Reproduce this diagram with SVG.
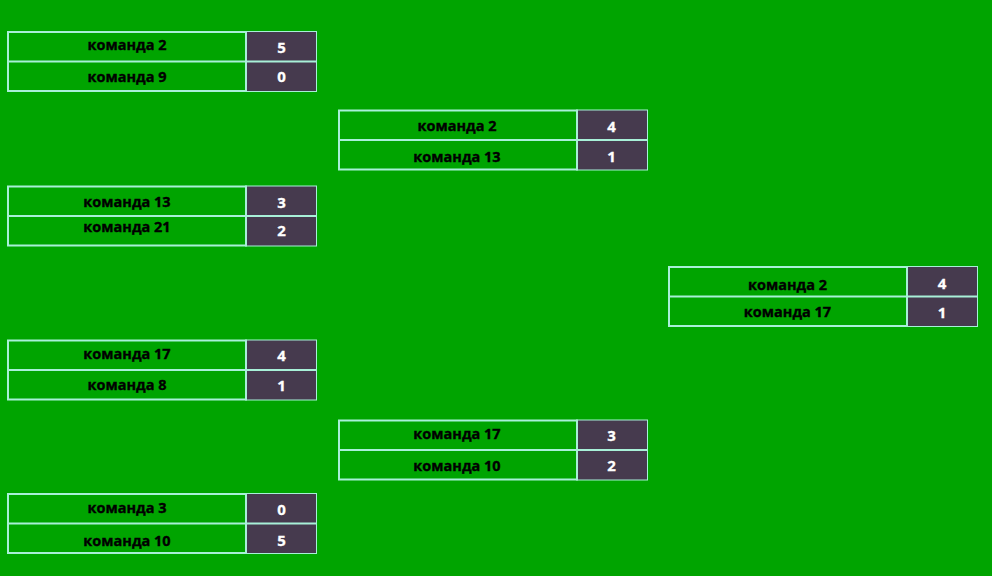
<svg xmlns="http://www.w3.org/2000/svg" width="992" height="576" viewBox="0 0 992 576">
<style>
.frame{fill:#00a400;stroke:#a8f0d8;stroke-width:2}
.score{fill:#463a4e}
.div{stroke:#a8f0d8;stroke-width:2}
.lbl{font-family:"Open Sans","Noto Sans",sans-serif;font-weight:700;font-size:14.5px;fill:#000;stroke:#000;stroke-width:0.35;text-anchor:middle}
.num{font-family:"Open Sans","Noto Sans",sans-serif;font-weight:700;font-size:15px;fill:#fff;stroke:#fff;stroke-width:0.3;text-anchor:middle}
</style>
<defs>
<g id="box">
<rect class="frame" x="1" y="1" width="308" height="59"/>
<rect class="score" x="240" y="1" width="69" height="59"/>
<line class="div" x1="239" y1="0" x2="239" y2="61"/>
<line class="div" x1="0" y1="30.5" x2="310" y2="30.5"/>
</g>
</defs>
<rect width="992" height="576" fill="#00a400"/>
<g id="m1">
<use href="#box" x="7" y="31"/>
<text class="lbl" x="127" y="50">команда 2</text>
<text class="num" x="281.5" y="53">5</text>
<text class="lbl" x="127" y="82">команда 9</text>
<text class="num" x="281.5" y="82">0</text>
</g>
<g id="m2">
<use href="#box" x="7" y="185.5"/>
<text class="lbl" x="127" y="206.5">команда 13</text>
<text class="num" x="281.5" y="207.5">3</text>
<text class="lbl" x="127" y="232">команда 21</text>
<text class="num" x="281.5" y="235.5">2</text>
</g>
<g id="m3">
<use href="#box" x="7" y="339.5"/>
<text class="lbl" x="127" y="359">команда 17</text>
<text class="num" x="281.5" y="361">4</text>
<text class="lbl" x="127" y="389.5">команда 8</text>
<text class="num" x="281.5" y="391">1</text>
</g>
<g id="m4">
<use href="#box" x="7" y="493"/>
<text class="lbl" x="127" y="513">команда 3</text>
<text class="num" x="281.5" y="515">0</text>
<text class="lbl" x="127" y="546">команда 10</text>
<text class="num" x="281.5" y="545.7">5</text>
</g>
<g id="m5">
<use href="#box" x="338" y="109.5"/>
<text class="lbl" x="457" y="130.5">команда 2</text>
<text class="num" x="611.5" y="131.5">4</text>
<text class="lbl" x="457" y="162">команда 13</text>
<text class="num" x="611.5" y="161.7">1</text>
</g>
<g id="m6">
<use href="#box" x="338" y="419.5"/>
<text class="lbl" x="457" y="439">команда 17</text>
<text class="num" x="611.5" y="441">3</text>
<text class="lbl" x="457" y="470.5">команда 10</text>
<text class="num" x="611.5" y="471">2</text>
</g>
<g id="m7">
<use href="#box" x="668" y="266"/>
<text class="lbl" x="787.5" y="290">команда 2</text>
<text class="num" x="942" y="289.3">4</text>
<text class="lbl" x="787.5" y="317">команда 17</text>
<text class="num" x="942" y="318">1</text>
</g>
<g id="connectors"/>
</svg>
